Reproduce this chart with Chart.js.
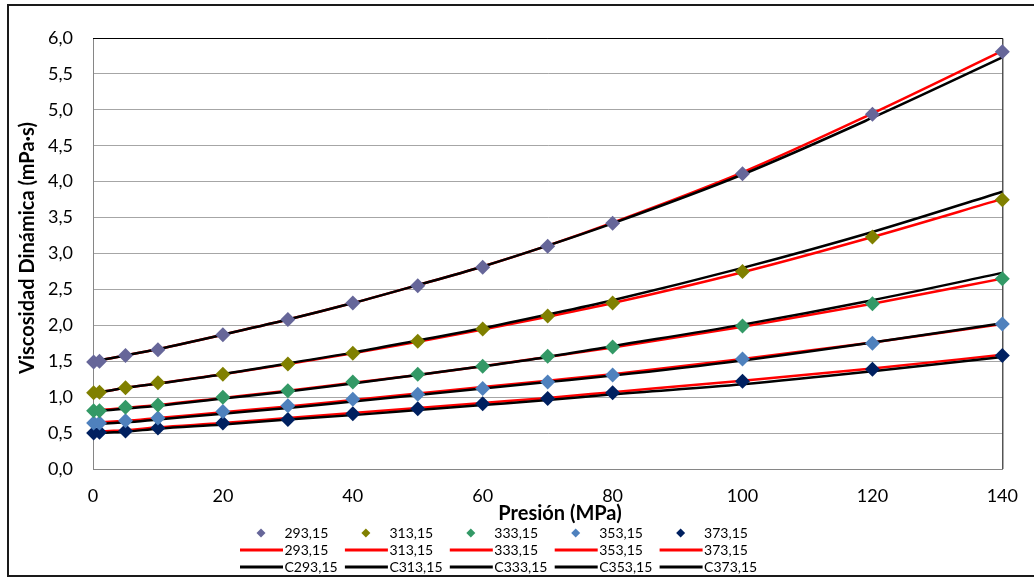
<!DOCTYPE html>
<html lang="es">
<head>
<meta charset="UTF-8">
<title>Viscosidad dinámica vs presión</title>
<script src="https://cdn.jsdelivr.net/npm/chart.js@4/dist/chart.umd.min.js"></script>
<style>
  body { margin: 0; background: #fff; }
  canvas { display: block; }
</style>
</head>
<body>
<canvas id="grafico" width="1034" height="577"></canvas>
<script>
// presiones medidas (MPa)
const presion = [0.1, 1, 5, 10, 20, 30, 40, 50, 60, 70, 80, 100, 120, 140]
const temperaturas = ['293,15', '313,15', '333,15', '353,15', '373,15']

// datos experimentales (mPa·s)
const exp293 = [1.49, 1.50, 1.58, 1.66, 1.87, 2.08, 2.31, 2.55, 2.81, 3.10, 3.42, 4.11, 4.94, 5.81]
const exp313 = [1.06, 1.07, 1.13, 1.20, 1.32, 1.46, 1.61, 1.78, 1.95, 2.13, 2.31, 2.75, 3.23, 3.75]
const exp333 = [0.81, 0.81, 0.86, 0.89, 1.00, 1.09, 1.21, 1.32, 1.43, 1.57, 1.70, 1.99, 2.30, 2.65]
const exp353 = [0.64, 0.64, 0.67, 0.71, 0.80, 0.88, 0.97, 1.04, 1.12, 1.21, 1.31, 1.53, 1.75, 2.02]
const exp373 = [0.50, 0.51, 0.53, 0.57, 0.64, 0.69, 0.77, 0.84, 0.91, 0.98, 1.06, 1.22, 1.39, 1.58]

// ajuste (línea roja)
const aju293 = [1.49, 1.51, 1.58, 1.67, 1.87, 2.08, 2.31, 2.56, 2.82, 3.11, 3.43, 4.13, 4.95, 5.82]
const aju313 = [1.06, 1.07, 1.13, 1.19, 1.32, 1.46, 1.61, 1.77, 1.94, 2.12, 2.31, 2.74, 3.23, 3.76]
const aju333 = [0.81, 0.82, 0.85, 0.89, 0.99, 1.09, 1.20, 1.31, 1.43, 1.56, 1.69, 1.98, 2.30, 2.65]
const aju353 = [0.64, 0.65, 0.67, 0.71, 0.79, 0.87, 0.96, 1.05, 1.14, 1.23, 1.32, 1.53, 1.76, 2.02]
const aju373 = [0.51, 0.52, 0.54, 0.58, 0.64, 0.71, 0.78, 0.85, 0.92, 0.99, 1.07, 1.23, 1.40, 1.59]

// correlación (línea negra)
const cor293 = [1.49, 1.51, 1.58, 1.67, 1.87, 2.08, 2.31, 2.56, 2.82, 3.11, 3.42, 4.10, 4.89, 5.73]
const cor313 = [1.06, 1.07, 1.13, 1.19, 1.32, 1.47, 1.62, 1.79, 1.96, 2.15, 2.35, 2.80, 3.30, 3.86]
const cor333 = [0.80, 0.81, 0.84, 0.88, 0.98, 1.08, 1.19, 1.31, 1.43, 1.56, 1.71, 2.01, 2.35, 2.73]
const cor353 = [0.62, 0.63, 0.65, 0.69, 0.77, 0.85, 0.94, 1.03, 1.12, 1.21, 1.30, 1.51, 1.76, 2.03]
const cor373 = [0.49, 0.50, 0.52, 0.56, 0.62, 0.69, 0.75, 0.82, 0.89, 0.96, 1.04, 1.18, 1.36, 1.56]

const yTicks = [0, 6, 0.5]
const xTicks = [0, 140, 20]

const experimentales = [exp293, exp313, exp333, exp353, exp373]
const ajustes = [aju293, aju313, aju333, aju353, aju373]
const correlaciones = [cor293, cor313, cor333, cor353, cor373]
const coloresPunto = ['#666699', '#808000', '#339966', '#4F81BD', '#002060']

const fuente = 'Lato, "Open Sans", sans-serif'

function puntos(valores) {
    return valores.map((v, i) => ({ x: presion[i], y: v }))
}

let datasets = []
temperaturas.forEach((t, i) => {
    datasets.push({
        label: t, data: puntos(experimentales[i]), order: 0, clip: false,
        showLine: false, pointStyle: 'rectRot', pointRadius: 7.5, pointHoverRadius: 7.5,
        backgroundColor: coloresPunto[i], borderColor: coloresPunto[i], borderWidth: 0,
        marca: 'punto'
    })
})
temperaturas.forEach((t, i) => {
    datasets.push({
        label: t, data: puntos(ajustes[i]), order: 2, clip: false,
        showLine: true, pointRadius: 0, borderColor: '#FF0000', borderWidth: 2.5,
        cubicInterpolationMode: 'monotone', marca: 'linea'
    })
})
temperaturas.forEach((t, i) => {
    datasets.push({
        label: 'C' + t, data: puntos(correlaciones[i]), order: 1, clip: false,
        showLine: true, pointRadius: 0, borderColor: '#000000', borderWidth: 2.5,
        cubicInterpolationMode: 'monotone', marca: 'linea'
    })
})

// marco, borde del área de trazado, títulos de ejes y leyenda
const marco = {
    id: 'marco',
    beforeDraw(chart) {
        const ctx = chart.ctx
        ctx.save()
        ctx.fillStyle = '#fff'
        ctx.fillRect(0, 0, chart.width, chart.height)
        ctx.strokeStyle = '#1a1a1a'
        ctx.lineWidth = 2
        ctx.strokeRect(8, 5, 1060, 571)
        ctx.restore()
    },
    beforeDatasetsDraw(chart) {
        const a = chart.chartArea
        const ctx = chart.ctx
        ctx.save()
        ctx.strokeStyle = '#000'
        ctx.lineWidth = 1
        ctx.beginPath()
        ctx.moveTo(a.left, a.top + 0.5)
        ctx.lineTo(a.right + 0.5, a.top + 0.5)
        ctx.lineTo(a.right + 0.5, a.bottom)
        ctx.stroke()
        ctx.restore()
    },
    afterDraw(chart) {
        const ctx = chart.ctx
        ctx.save()
        ctx.fillStyle = '#000'
        ctx.font = 'bold 20px ' + fuente
        ctx.textAlign = 'center'
        ctx.textBaseline = 'middle'
        ctx.fillText('Presión (MPa)', 560, 514)
        ctx.translate(28, 248)
        ctx.rotate(-Math.PI / 2)
        ctx.fillText('Viscosidad Dinámica (mPa·s)', 0, 0)
        ctx.restore()

        // leyenda: 5 columnas x 3 filas
        ctx.save()
        ctx.font = '14px ' + fuente
        ctx.textAlign = 'left'
        ctx.textBaseline = 'middle'
        const filas = [533, 550, 567]
        chart.data.datasets.forEach((ds, k) => {
            const fila = Math.floor(k / 5)
            const col = k % 5
            const x0 = 240 + col * 104.9
            const y = filas[fila]
            if (ds.marca === 'punto') {
                ctx.fillStyle = ds.backgroundColor
                ctx.beginPath()
                ctx.moveTo(x0 + 21, y - 4.5)
                ctx.lineTo(x0 + 25.5, y)
                ctx.lineTo(x0 + 21, y + 4.5)
                ctx.lineTo(x0 + 16.5, y)
                ctx.closePath()
                ctx.fill()
            } else {
                ctx.strokeStyle = ds.borderColor
                ctx.lineWidth = 3
                ctx.beginPath()
                ctx.moveTo(x0, y)
                ctx.lineTo(x0 + 43, y)
                ctx.stroke()
            }
            ctx.fillStyle = '#000'
            ctx.fillText(ds.label, x0 + 44.5, y)
        })
        ctx.restore()
    }
}

new Chart('grafico', {
    type: 'scatter',
    data: { datasets: datasets },
    options: {
        responsive: false,
        animation: false,
        events: [],
        layout: { padding: { left: 0, top: 38, right: 22, bottom: 0 } },
        plugins: { legend: { display: false }, tooltip: { enabled: false } },
        scales: {
            x: {
                type: 'linear', min: xTicks[0], max: xTicks[1],
                afterFit: s => { s.height = 108 },
                grid: { display: false, drawTicks: false, tickLength: 0 },
                border: { display: true, color: '#868686', width: 1 },
                ticks: { stepSize: xTicks[2], padding: 16, color: '#000', font: { family: fuente, size: 18 } }
            },
            y: {
                type: 'linear', min: yTicks[0], max: yTicks[1],
                afterFit: s => { s.width = 93 },
                grid: { color: '#A6A6A6', lineWidth: 1, drawTicks: false, tickLength: 0 },
                border: { display: true, color: '#868686', width: 1 },
                ticks: {
                    stepSize: yTicks[2], padding: 20, color: '#000',
                    font: { family: fuente, size: 18 },
                    callback: v => v.toFixed(1).replace('.', ',')
                }
            }
        }
    },
    plugins: [marco]
})
</script>
</body>
</html>
